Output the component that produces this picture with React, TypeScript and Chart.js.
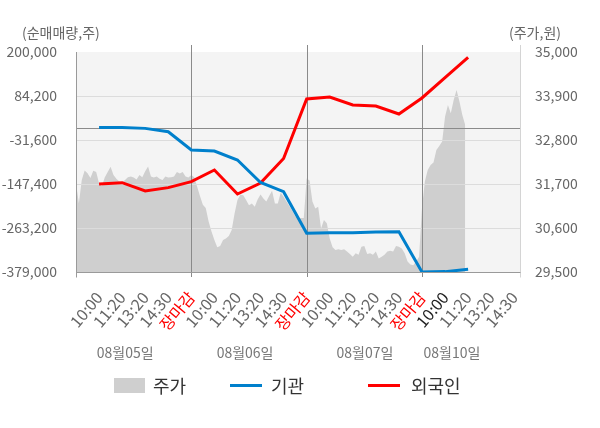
import { useEffect, useRef } from 'react';
import Chart from 'chart.js/auto';

const FONT = "'Noto Sans CJK KR', 'Noto Sans', sans-serif";

// x axis: 5 label slots per trading day
const slotLabels = ['10:00', '11:20', '13:20', '14:30', '장마감'];
const dayLabels = ['08월05일', '08월06일', '08월07일', '08월10일'];
const SLOTS_PER_DAY = 5;
const LAST_SLOT = 19;
const X_MAX = 19.25;
// where the date captions sit, in slot units
const dayLabelSlots = [2.13, 7.33, 12.53, 16.3];

// net buying (shares) at slots 1..17
const institution = [
  1000, 1000, -1000, -10000, -57900, -60500, -84200, -143400, -167600,
  -277000, -276000, -276000, -274000, -273000, -379000, -378000, -372000,
];
const foreign = [
  -147400, -144000, -165800, -157000, -141300, -110600, -173700, -144800, -80300,
  76300, 81600, 60500, 57900, 36800, 79000, 132400, 186000,
];

// share price samples (40 per full day)
const priceDay1 = [
  31720, 31220, 31800, 32035, 31970, 31850, 32030, 32000, 31720, 31650,
  31870, 32000, 32130, 31925, 31830, 31760, 31740, 31800, 31870, 31890,
  31860, 31810, 31925, 31870, 32020, 32140, 31890, 31860, 31890, 31830,
  31800, 31890, 31860, 31870, 31890, 32000, 31960, 32000, 31890, 31860,
];
const priceDay2 = [
  31925, 31870, 31640, 31400, 31180, 31100, 30760, 30510, 30300, 30120,
  30150, 30300, 30340, 30400, 30550, 30960, 31300, 31430, 31420, 31300,
  31170, 31210, 31130, 31310, 31440, 31340, 31260, 31400, 31530, 31210,
  31210, 31480, 31380, 31260, 31150, 31030, 30900, 30840, 30850, 30850,
];
const priceDay3 = [
  31840, 31790, 31260, 31090, 31130, 30590, 30800, 30720, 30340, 30120,
  30050, 30070, 30050, 30070, 30010, 29950, 29880, 29970, 29930, 30130,
  30150, 29950, 29970, 29930, 30010, 29840, 29880, 29930, 30010, 30030,
  30010, 30150, 30130, 30090, 29970, 29760, 29690, 29670, 29760, 29880,
];
const priceDay4 = [
  31100, 31760, 32050, 32175, 32240, 32550, 32650, 32760, 33380, 33675,
  33470, 33800, 34050, 33760, 33425, 33175,
];
const SAMPLES_PER_DAY = 40;

const leftTicks = [200000, 84200, -31600, -147400, -263200, -379000];
const PRICE_MIN = 29500;
const PRICE_MAX = 35000;
const PRICE_STEP = 1100;

const xLabels = dayLabels
  .flatMap(() => slotLabels)
  .slice(0, LAST_SLOT);

const priceData = [priceDay1, priceDay2, priceDay3, priceDay4].flatMap((day, d) =>
  day.map((p, i) => ({ x: d * SLOTS_PER_DAY + (i * SLOTS_PER_DAY) / SAMPLES_PER_DAY, y: p }))
);

const decorPlugin = {
  id: 'decor',
  beforeDatasetsDraw(chart: any) {
    const { ctx, chartArea: a } = chart;
    ctx.save();
    ctx.fillStyle = '#f4f4f4';
    ctx.fillRect(a.left, a.top, a.right - a.left, a.bottom - a.top);
    ctx.restore();
  },
  afterDatasetDraw(chart: any, args: any) {
    if (args.index !== 0) return;
    const { ctx, chartArea: a, scales } = chart;
    const line = (x1: number, y1: number, x2: number, y2: number, c: string) => {
      ctx.strokeStyle = c;
      ctx.beginPath();
      ctx.moveTo(x1, y1);
      ctx.lineTo(x2, y2);
      ctx.stroke();
    };
    ctx.save();
    ctx.lineWidth = 1;
    leftTicks.slice(1, -1).forEach((v) => {
      const y = Math.round(scales.y.getPixelForValue(v)) + 0.5;
      line(a.left, y, a.right, y, '#dcdcdc');
    });
    const zy = Math.round(scales.y.getPixelForValue(0)) + 0.5;
    line(a.left, zy, a.right, zy, '#8a8a8a');
    for (let s = SLOTS_PER_DAY; s < LAST_SLOT; s += SLOTS_PER_DAY) {
      const x = Math.round(scales.x.getPixelForValue(s)) + 0.5;
      line(x, a.top - 7, x, a.bottom + 5, '#8a8a8a');
    }
    const l = Math.round(a.left) + 0.5;
    const r = Math.round(a.right) + 0.5;
    const b = Math.round(a.bottom) + 0.5;
    line(l, a.top, l, b + 5, '#9a9a9a');
    line(r, a.top - 7, r, b + 5, '#d4d4d4');
    line(l, b, r, b, '#9a9a9a');
    ctx.restore();
  },
  afterDraw(chart: any) {
    const { ctx, scales } = chart;
    ctx.save();
    ctx.textBaseline = 'middle';
    ctx.fillStyle = '#666';
    ctx.font = `14px ${FONT}`;
    ctx.textAlign = 'left';
    ctx.fillText('(순매매량,주)', 22, 33);
    ctx.fillText('(주가,원)', 509, 33);
    ctx.fillStyle = '#777';
    ctx.textAlign = 'center';
    dayLabels.forEach((d, i) => {
      ctx.fillText(d, scales.x.getPixelForValue(dayLabelSlots[i]), 353);
    });
    // legend
    ctx.font = `18px ${FONT}`;
    ctx.textAlign = 'left';
    ctx.fillStyle = '#cfcfcf';
    ctx.fillRect(114, 378, 31, 15);
    ctx.fillStyle = '#333';
    ctx.fillText('주가', 153, 386);
    ctx.fillStyle = '#0080cc';
    ctx.fillRect(230, 384, 32, 3);
    ctx.fillStyle = '#333';
    ctx.fillText('기관', 271, 386);
    ctx.fillStyle = '#ff0000';
    ctx.fillRect(368, 384, 32, 3);
    ctx.fillStyle = '#333';
    ctx.fillText('외국인', 411, 386);
    ctx.restore();
  },
};

export default function App() {
  const canvasRef = useRef<HTMLCanvasElement | null>(null);

  useEffect(() => {
    if (!canvasRef.current) return;
    const chart = new Chart(canvasRef.current, {
      type: 'line',
      data: {
        datasets: [
          {
            label: '주가',
            data: priceData,
            yAxisID: 'price',
            fill: 'start',
            backgroundColor: '#cfcfcf',
            borderColor: 'transparent',
            borderWidth: 0,
            pointRadius: 0,
            order: 3,
          },
          {
            label: '기관',
            data: institution.map((v, i) => ({ x: i + 1, y: v })),
            yAxisID: 'y',
            borderColor: '#0080cc',
            borderWidth: 3,
            pointRadius: 0,
            fill: false,
            order: 1,
          },
          {
            label: '외국인',
            data: foreign.map((v, i) => ({ x: i + 1, y: v })),
            yAxisID: 'y',
            borderColor: '#ff0000',
            borderWidth: 3,
            pointRadius: 0,
            fill: false,
            order: 2,
          },
        ],
      },
      options: {
        animation: false,
        responsive: false,
        maintainAspectRatio: false,
        layout: { padding: { top: 52 } },
        plugins: { legend: { display: false }, tooltip: { enabled: false } },
        scales: {
          x: {
            type: 'linear',
            min: 0,
            max: X_MAX,
            afterBuildTicks: (s: any) => {
              s.ticks = xLabels.map((_, i) => ({ value: i + 1 }));
            },
            afterFit: (s: any) => {
              s.height = 156;
            },
            grid: { display: false },
            border: { display: false },
            ticks: {
              autoSkip: false,
              minRotation: 50,
              maxRotation: 50,
              padding: 8,
              font: { size: 16, family: FONT },
              color: (c: any) => {
                const s = c.tick?.value ?? 0;
                if ((s - 1) % SLOTS_PER_DAY === SLOTS_PER_DAY - 1) return '#ff0000';
                if (s === 3 * SLOTS_PER_DAY + 1) return '#222';
                return '#666';
              },
              callback: (v: any) => xLabels[Number(v) - 1] ?? '',
            },
          },
          y: {
            position: 'left',
            min: leftTicks[leftTicks.length - 1],
            max: leftTicks[0],
            afterBuildTicks: (s: any) => {
              s.ticks = leftTicks.map((v) => ({ value: v }));
            },
            afterFit: (s: any) => {
              s.width = 76;
            },
            grid: { display: false },
            border: { display: false },
            ticks: {
              padding: 11,
              color: '#666',
              font: { size: 14, family: FONT },
              callback: (v: any) => Number(v).toLocaleString('en-US'),
            },
          },
          price: {
            position: 'right',
            min: PRICE_MIN,
            max: PRICE_MAX,
            afterBuildTicks: (s: any) => {
              const t = [];
              for (let v = PRICE_MIN; v <= PRICE_MAX; v += PRICE_STEP) t.push({ value: v });
              s.ticks = t;
            },
            afterFit: (s: any) => {
              s.width = 80;
            },
            grid: { display: false },
            border: { display: false },
            ticks: {
              padding: 7,
              color: '#666',
              font: { size: 14, family: FONT },
              callback: (v: any) => Number(v).toLocaleString('en-US'),
            },
          },
        },
      },
      plugins: [decorPlugin],
    });
    return () => chart.destroy();
  }, []);

  return (
    <div style={{ position: 'absolute', left: 0, top: 0, width: 600, height: 428, background: '#fff' }}>
      <canvas ref={canvasRef} width={600} height={428} />
    </div>
  );
}
